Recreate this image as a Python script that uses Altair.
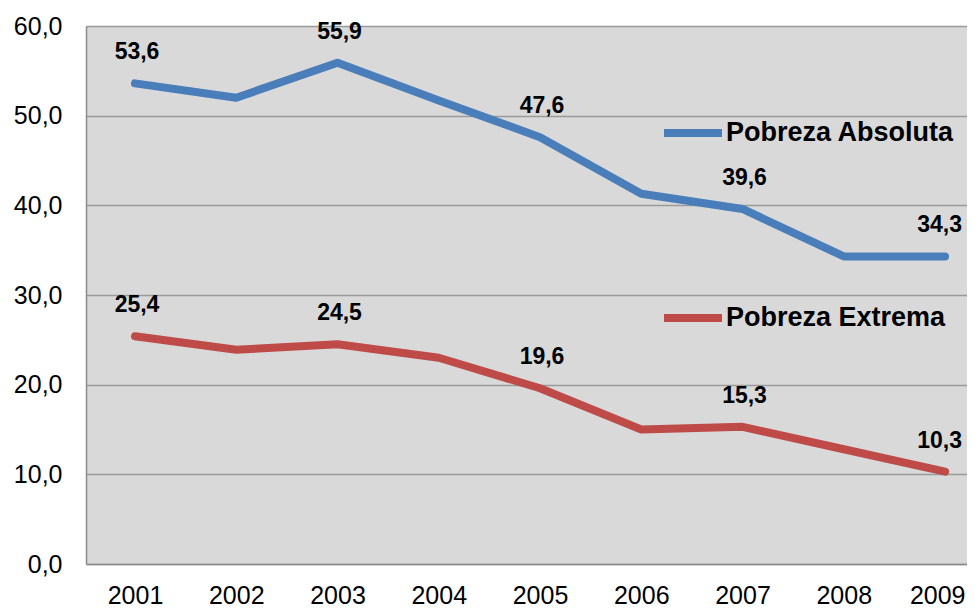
import altair as alt
import pandas as pd

years = [2001, 2002, 2003, 2004, 2005, 2006, 2007, 2008, 2009]
absoluta = [53.6, 52.0, 55.9, 51.7, 47.6, 41.3, 39.6, 34.3, 34.3]
extrema = [25.4, 23.9, 24.5, 23.0, 19.6, 15.0, 15.3, 12.8, 10.3]
series = ["Pobreza Absoluta", "Pobreza Extrema"]
colors = ["#4A7EBB", "#BE4B48"]
labeled_years = [2001, 2003, 2005, 2007]
last_year = [2009]

rows = []
for y, a, e in zip(years, absoluta, extrema):
    rows.append({"year": y, "value": a, "serie": series[0]})
    rows.append({"year": y, "value": e, "serie": series[1]})
df = pd.DataFrame(rows)

FONT = "Liberation Sans"
EDGE = "#8c8c8c"

x = alt.X(
    "year:Q",
    scale=alt.Scale(domain=[2000.516, 2009.217], nice=False, zero=False),
    axis=alt.Axis(
        values=years, format="d", title=None, grid=False, ticks=False,
        domain=True, domainColor=EDGE, domainWidth=1.5,
        labelFontSize=25, labelFont=FONT, labelColor="#000000", labelPadding=19,
        labelFlush=False, labelOverlap=False,
        labelAlign=alt.ExprRef(expr="datum.value == 2009 ? 'right' : 'center'"),
        labelOffset=alt.ExprRef(expr="datum.value == 2009 ? 20 : 0"),
    ),
)
y = alt.Y(
    "value:Q",
    scale=alt.Scale(domain=[0, 60], nice=False),
    axis=alt.Axis(
        values=[0, 10, 20, 30, 40, 50, 60], title=None, ticks=False,
        domain=True, domainColor=EDGE, domainWidth=1.5,
        labelExpr="replace(format(datum.value, '.1f'), '.', ',')",
        labelFontSize=25, labelFont=FONT, labelColor="#000000", labelPadding=24,
        gridColor="#9a9a9a", gridWidth=1.5,
    ),
)
color = alt.Color(
    "serie:N",
    scale=alt.Scale(domain=series, range=colors),
    legend=alt.Legend(
        title=None, orient="none", legendX=574, legendY=74,
        symbolType="stroke", symbolStrokeWidth=8, symbolSize=3364,
        labelFontSize=27, labelFont=FONT, labelFontWeight="bold", labelColor="#000000",
        labelOffset=0, rowPadding=136, padding=0, labelLimit=400,
    ),
)

base = alt.Chart(df)
lines = base.mark_line(strokeWidth=8, strokeCap="round", strokeJoin="round", clip=True).encode(
    x=x, y=y, color=color
)
fmt = "replace(format(datum.value, '.1f'), '.', ',')"
labels = (
    base.transform_filter(alt.FieldOneOfPredicate(field="year", oneOf=labeled_years))
    .transform_calculate(lbl=fmt)
    .mark_text(dy=-31, dx=2, fontSize=23, fontWeight="bold", font=FONT, color="#000000", baseline="middle")
    .encode(x=x, y=y, text="lbl:N")
)
labels_last = (
    base.transform_filter(alt.FieldOneOfPredicate(field="year", oneOf=last_year))
    .transform_calculate(lbl=fmt)
    .mark_text(dy=-31, dx=17, align="right", fontSize=23, fontWeight="bold", font=FONT,
               color="#000000", baseline="middle")
    .encode(x=x, y=y, text="lbl:N")
)

chart = (
    alt.layer(lines, labels, labels_last)
    .properties(
        width=881, height=538,
        autosize=alt.AutoSizeParams(type="none"),
        padding={"left": 78, "top": 18, "right": 0, "bottom": 43},
        background="#ffffff",
    )
    .configure_view(fill="#d9d9d9", stroke=None)
)

chart.save("out.html", embed_options={"renderer": "svg", "actions": False})
